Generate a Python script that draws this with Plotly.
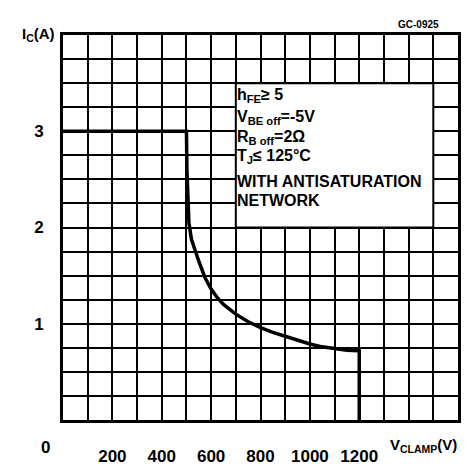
import plotly.graph_objects as go

# SOA curve (V_CLAMP in V, I_C in A)
v_clamp = [0, 500, 500, 502, 505, 510, 520, 535, 550, 575, 600, 625, 650, 700, 750, 800, 850,
           900, 950, 1000, 1050, 1100, 1150, 1200, 1200]
i_c = [3.0, 3.0, 3.0, 2.6, 2.3, 2.05, 1.88, 1.75, 1.65, 1.48, 1.36, 1.27, 1.20, 1.10, 1.02,
       0.96, 0.91, 0.87, 0.83, 0.79, 0.76, 0.74, 0.725, 0.72, 0.0]

x_ticks = [200, 400, 600, 800, 1000, 1200]
y_ticks = [1, 2, 3]

box_lines = [
    "h<sub>FE</sub>≥ 5",
    "V<sub>BE off</sub>=-5V",
    "R<sub>B off</sub>=2Ω",
    "T<sub>J</sub>≤ 125°C",
    "WITH ANTISATURATION",
    "NETWORK",
]
box_line_y = [3.37, 3.14, 2.94, 2.74, 2.48, 2.28]

FONT = "Liberation Sans"

fig = go.Figure()
fig.add_trace(go.Scatter(x=v_clamp, y=i_c, mode="lines",
                         line=dict(color="black", width=3.5), hoverinfo="skip"))

fig.update_layout(
    width=469, height=470,
    margin=dict(l=55, r=19, t=27, b=42),
    paper_bgcolor="white", plot_bgcolor="white",
    showlegend=False,
    font=dict(family=FONT, color="black"),
)

fig.update_xaxes(
    range=[0, 1600], tickvals=x_ticks, ticktext=[str(v) for v in x_ticks],
    showgrid=True, gridcolor="black", gridwidth=2,
    minor=dict(dtick=100, tick0=0, showgrid=True, gridcolor="black", gridwidth=2),
    showline=True, linecolor="black", linewidth=3, mirror=True,
    ticks="", zeroline=False, ticklabelstandoff=19,
    tickfont=dict(family=FONT, size=17, color="black", weight="bold"),
)
fig.update_yaxes(
    range=[0, 4], tickvals=y_ticks, ticktext=[str(v) for v in y_ticks],
    showgrid=True, gridcolor="black", gridwidth=2,
    minor=dict(dtick=0.25, tick0=0, showgrid=True, gridcolor="black", gridwidth=2),
    showline=True, linecolor="black", linewidth=3, mirror=True,
    ticks="", zeroline=False, ticklabelstandoff=13,
    tickfont=dict(family=FONT, size=17, color="black", weight="bold"),
)

# white conditions box
fig.add_shape(type="rect", x0=700, x1=1500, y0=2.0, y1=3.5, xref="x", yref="y",
              fillcolor="white", line=dict(color="black", width=2), layer="between")

for txt, yy in zip(box_lines, box_line_y):
    fig.add_annotation(x=700, y=yy, xref="x", yref="y", text=txt, showarrow=False,
                       xanchor="left", yanchor="middle", xshift=-1,
                       font=dict(family=FONT, size=16, color="black", weight="bold"))

# axis titles and labels
fig.add_annotation(x=0, y=0, xref="x", yref="y", text="0", showarrow=False,
                   xanchor="center", yanchor="middle", xshift=-18, yshift=-27,
                   font=dict(family=FONT, size=17, color="black", weight="bold"))
fig.add_annotation(x=1316, y=0, xref="x", yref="y", text="V<sub>CLAMP</sub>(V)", showarrow=False,
                   xanchor="left", yanchor="middle", yshift=-25,
                   font=dict(family=FONT, size=15, color="black", weight="bold"))
fig.add_annotation(x=0, y=4, xref="x", yref="y", text="I<sub>C</sub>(A)", showarrow=False,
                   xanchor="right", yanchor="middle", xshift=-6, yshift=1,
                   font=dict(family=FONT, size=15, color="black", weight="bold"))
fig.add_annotation(x=1600, y=4, xref="x", yref="y", text="GC-0925", showarrow=False,
                   xanchor="right", yanchor="middle", xshift=-17, yshift=11,
                   font=dict(family=FONT, size=10, color="black", weight="bold"))

fig.write_html("out.html")
